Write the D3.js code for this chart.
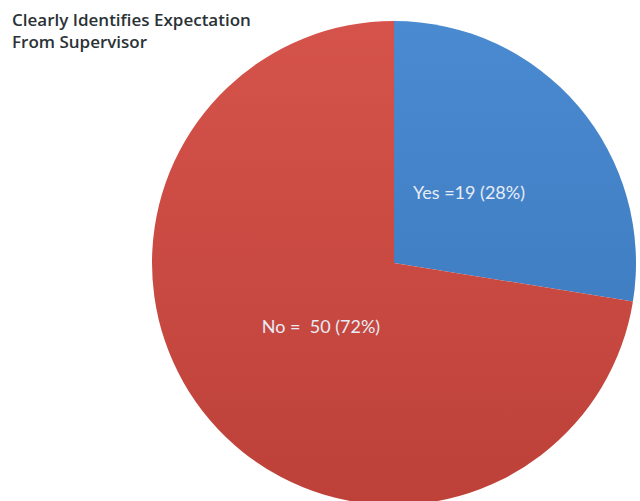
<!DOCTYPE html>
<html lang="en">
<head>
<meta charset="UTF-8">
<title>Clearly Identifies Expectation From Supervisor</title>
<script src="https://d3js.org/d3.v7.min.js"></script>
<style>
  body { margin: 0; background: #fff; }
  .title { font: 600 17px "Open Sans", "Lato", sans-serif; fill: #2a3236; }
  .slice-label { font: 18px "Lato", "Open Sans", sans-serif; fill: #e6ecf6; white-space: pre; }
</style>
</head>
<body>
<script>
// Data
const categories = ["Yes", "No"];
const counts = [19, 50];
const labels = ["Yes =19 (28%)", "No =  50 (72%)"];
const titleLines = ["Clearly Identifies Expectation", "From Supervisor"];

const width = 640, height = 501;
const cx = 394, cy = 263, radius = 242;

const svg = d3.select("body").append("svg")
    .attr("width", width)
    .attr("height", height);

// gradients for the two slices
const defs = svg.append("defs");
const grads = [
    { id: "gYes", top: "#4a8ad0", bottom: "#3a76bb" },
    { id: "gNo", top: "#d5534a", bottom: "#bd4139" }
];
grads.forEach(g => {
    const lg = defs.append("linearGradient")
        .attr("id", g.id)
        .attr("gradientUnits", "userSpaceOnUse")
        .attr("x1", 0).attr("y1", -radius)
        .attr("x2", 0).attr("y2", radius);
    lg.append("stop").attr("offset", "0%").attr("stop-color", g.top);
    lg.append("stop").attr("offset", "100%").attr("stop-color", g.bottom);
});

const pie = d3.pie().sort(null).value(d => d);
const arcs = pie(counts);
const arc = d3.arc().innerRadius(0).outerRadius(radius);

const g = svg.append("g").attr("transform", `translate(${cx},${cy})`);

g.selectAll("path")
    .data(arcs)
    .enter().append("path")
    .attr("d", arc)
    .attr("fill", (d, i) => `url(#${grads[i].id})`);

// slice labels (offsets from the centre, roughly where the original put them)
const labelOffsets = [[75, -70], [-73, 64]];
g.selectAll("text.slice-label")
    .data(arcs)
    .enter().append("text")
    .attr("class", "slice-label")
    .attr("text-anchor", "middle")
    .attr("dy", "0.35em")
    .attr("transform", (d, i) => `translate(${labelOffsets[i][0]},${labelOffsets[i][1]})`)
    .text((d, i) => labels[i]);

// title
const title = svg.append("text").attr("class", "title");
titleLines.forEach((t, i) => {
    title.append("tspan").attr("x", 12).attr("y", 26 + i * 22).text(t);
});
</script>
</body>
</html>
